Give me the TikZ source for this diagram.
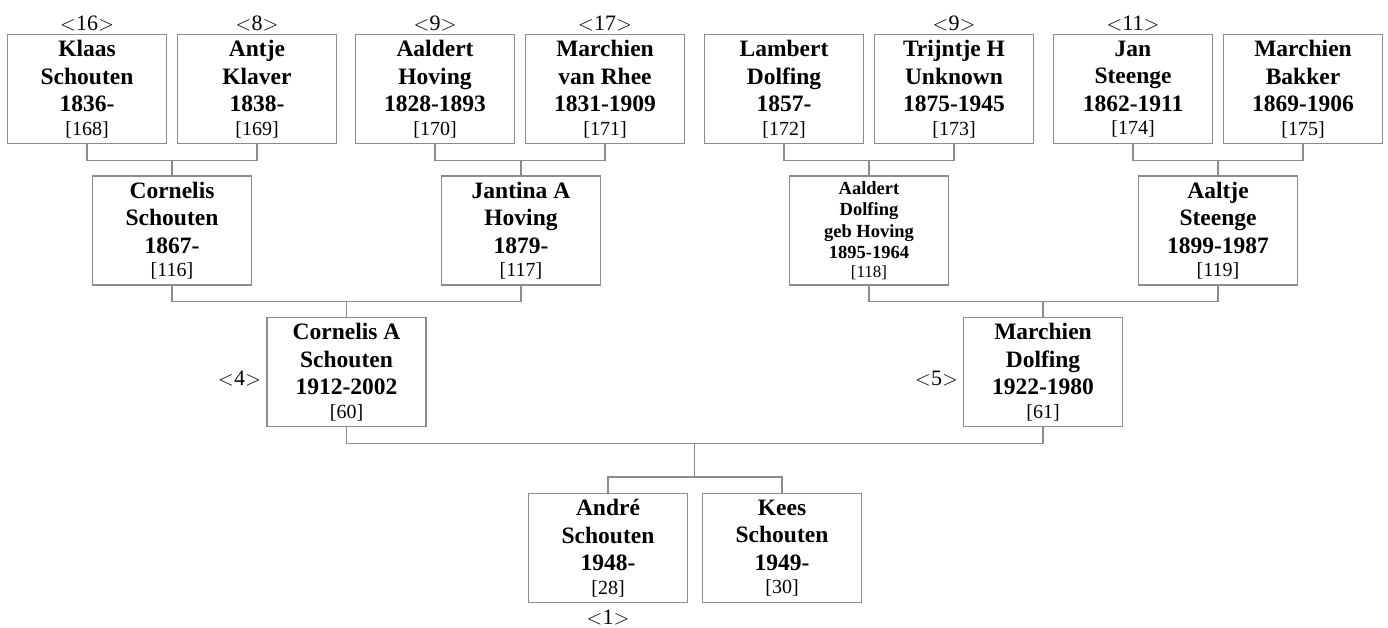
\documentclass[tikz,border=0pt]{standalone}
\usepackage{fontspec}
\setmainfont{Liberation Serif}
\usetikzlibrary{calc}
\definecolor{linegray}{RGB}{140,140,140}
\tikzset{
  person/.style={draw=linegray, line width=1.2pt, minimum width=159pt, minimum height=109pt,
    inner sep=0pt, align=center, font=\fontsize{23.5}{27.5}\selectfont\bfseries},
  smallperson/.style={person, font=\fontsize{18.5}{21.5}\selectfont\bfseries},
  conn/.style={draw=linegray, line width=1.2pt},
  lab/.style={font=\fontsize{22}{24}\selectfont, inner sep=0pt},
}
\newcommand{\idnum}[1]{{\mdseries\fontsize{20}{22}\selectfont[#1]}}
\newcommand{\smallidnum}[1]{{\mdseries\fontsize{17}{19}\selectfont[#1]}}
\begin{document}
\begin{tikzpicture}[x=1pt,y=1pt]
\useasboundingbox (0,0) rectangle (1388,-627);
% top row
\node[person] (klaas) at (87,-89) {Klaas\\Schouten\\1836-\\[-4pt]\idnum{168}};
\node[person] (antje) at (257,-89) {Antje\\Klaver\\1838-\\[-4pt]\idnum{169}};
\node[person] (aaldertH) at (435,-89) {Aaldert\\Hoving\\1828-1893\\[-4pt]\idnum{170}};
\node[person] (marchienR) at (605,-89) {Marchien\\van Rhee\\1831-1909\\[-4pt]\idnum{171}};
\node[person] (lambert) at (784,-89) {Lambert\\Dolfing\\1857-\\[-4pt]\idnum{172}};
\node[person] (trijntje) at (954,-89) {Trijntje H\\Unknown\\1875-1945\\[-4pt]\idnum{173}};
\node[person] (jan) at (1133,-89) {Jan\\Steenge\\1862-1911\\[-4pt]\idnum{174}};
\node[person] (marchienB) at (1303,-89) {Marchien\\Bakker\\1869-1906\\[-4pt]\idnum{175}};
% second row
\node[person] (cornelis) at (172,-230.5) {Cornelis\\Schouten\\1867-\\[-4pt]\idnum{116}};
\node[person] (jantina) at (521,-230.5) {Jantina A\\Hoving\\1879-\\[-4pt]\idnum{117}};
\node[smallperson] (aaldertD) at (869,-230.5) {Aaldert\\Dolfing\\geb Hoving\\1895-1964\\[-3pt]\smallidnum{118}};
\node[person] (aaltje) at (1218,-230.5) {Aaltje\\Steenge\\1899-1987\\[-4pt]\idnum{119}};
% third row
\node[person] (cornA) at (346.5,-372) {Cornelis A\\Schouten\\1912-2002\\[-4pt]\idnum{60}};
\node[person] (marchienD) at (1043,-372) {Marchien\\Dolfing\\1922-1980\\[-4pt]\idnum{61}};
% bottom row
\node[person] (andre) at (608,-548) {André\\Schouten\\1948-\\[-4pt]\idnum{28}};
\node[person] (kees) at (782,-548) {Kees\\Schouten\\1949-\\[-4pt]\idnum{30}};
% labels
\node[lab, anchor=base] (l16) at (87,-30) {$<$16$>$};
\node[lab, anchor=base] (l8) at (257,-30) {$<$8$>$};
\node[lab, anchor=base] (l9a) at (435,-30) {$<$9$>$};
\node[lab, anchor=base] (l17) at (605,-30) {$<$17$>$};
\node[lab, anchor=base] (l9b) at (954,-30) {$<$9$>$};
\node[lab, anchor=base] (l11) at (1133,-30) {$<$11$>$};
\node[lab, anchor=base east] (l4) at (261,-385) {$<$4$>$};
\node[lab, anchor=base east] (l5) at (958,-385) {$<$5$>$};
\node[lab, anchor=base] (l1) at (608,-624) {$<$1$>$};
% connectors
\draw[conn] (klaas.south) -- ++(0,-16) -| (antje.south);
\draw[conn] (cornelis.north) -- ++(0,15);
\draw[conn] (aaldertH.south) -- ++(0,-16) -| (marchienR.south);
\draw[conn] (jantina.north) -- ++(0,15);
\draw[conn] (lambert.south) -- ++(0,-16) -| (trijntje.south);
\draw[conn] (aaldertD.north) -- ++(0,15);
\draw[conn] (jan.south) -- ++(0,-16) -| (marchienB.south);
\draw[conn] (aaltje.north) -- ++(0,15);
\draw[conn] (cornelis.south) -- ++(0,-16) -| (jantina.south);
\draw[conn] (cornA.north) -- ++(0,15);
\draw[conn] (aaldertD.south) -- ++(0,-16) -| (aaltje.south);
\draw[conn] (marchienD.north) -- ++(0,15);
\draw[conn] (cornA.south) -- ++(0,-16) -| (marchienD.south);
\coordinate (mid) at ($(cornA.south)!0.5!(marchienD.south)+(0,-16)$);
\draw[conn] (mid) -- ++(0,-34);
\draw[conn] (andre.north) -- ++(0,16) -| (kees.north);
\end{tikzpicture}
\end{document}
